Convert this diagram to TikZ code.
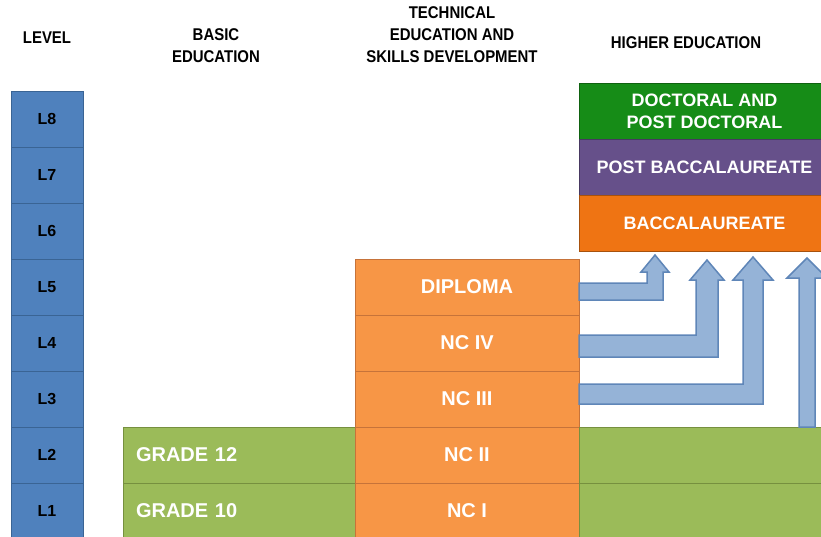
\documentclass[tikz,border=0pt]{standalone}
\usepackage{fontspec}
\setmainfont{Liberation Sans}
\newfontfamily\narrowsans[FakeStretch=0.88]{Liberation Sans Bold}
\usetikzlibrary{positioning}
\definecolor{levelblue}{HTML}{4F81BD}
\definecolor{levelline}{HTML}{3A6494}
\definecolor{tesdorange}{HTML}{F79646}
\definecolor{tesdline}{HTML}{C6733A}
\definecolor{basicgreen}{HTML}{9BBB59}
\definecolor{basicline}{HTML}{76903F}
\definecolor{docgreen}{HTML}{168C17}
\definecolor{postpurple}{HTML}{66508A}
\definecolor{baccorange}{HTML}{EF7413}
\definecolor{arrowblue}{HTML}{95B3D7}
\definecolor{arrowline}{HTML}{5F86B8}
\tikzset{
level/.style = {rectangle, draw = levelline, fill = levelblue, line width = 1pt, minimum width = 72, minimum height = 56, inner sep = 0, outer sep = 0, text = black, font = \bfseries\fontsize{16}{16}\selectfont},
tesd/.style = {rectangle, draw = tesdline, fill = tesdorange, line width = 1pt, minimum width = 224, minimum height = 56, inner sep = 0, outer sep = 0, text = white, font = \bfseries\fontsize{20}{20}\selectfont},
basic/.style = {rectangle, draw = basicline, fill = basicgreen, line width = 1pt, minimum height = 56, inner sep = 0, outer sep = 0, text = white, font = \bfseries\fontsize{20}{20}\selectfont},
higher/.style = {rectangle, draw = #1!70!black, fill = #1, line width = 1pt, minimum width = 251, minimum height = 56, inner sep = 0, outer sep = 0, text = white, align = center, font = \bfseries\fontsize{18}{22}\selectfont},
header/.style = {align = center, text = black, font = \narrowsans\fontsize{17}{22}\selectfont},
ladder arrow/.style = {draw = arrowline, fill = arrowblue, line width = 1.5pt, line join = miter},
}

\begin{document}
\begin{tikzpicture}[x = 1pt, y = -1pt]
    \useasboundingbox (0, 0) rectangle (821, 536);
    \clip (0, 0) rectangle (821, 536);
    % column headers
    \node[header] (hlevel) at (47, 38) {LEVEL};
    \node[header] (hbasic) at (216, 46) {BASIC\\EDUCATION};
    \node[header] (htesd) at (452, 35) {TECHNICAL\\EDUCATION AND\\SKILLS DEVELOPMENT};
    \node[header] (hhigher) at (686, 43) {HIGHER EDUCATION};
    % levels
    \node[level] (l8) at (47, 119) {L8};
    \node[level, below = 0pt of l8] (l7) {L7};
    \node[level, below = 0pt of l7] (l6) {L6};
    \node[level, below = 0pt of l6] (l5) {L5};
    \node[level, below = 0pt of l5] (l4) {L4};
    \node[level, below = 0pt of l4] (l3) {L3};
    \node[level, below = 0pt of l3] (l2) {L2};
    \node[level, below = 0pt of l2] (l1) {L1};
    % basic education
    \node[basic, minimum width = 232, text width = 206, align = left] (grade12) at (239, 455) {GRADE 12};
    \node[basic, minimum width = 232, text width = 206, align = left, below = 0pt of grade12] (grade10) {GRADE 10};
    % technical education and skills development
    \node[tesd] (diploma) at (467, 287) {DIPLOMA};
    \node[tesd, below = 0pt of diploma] (nc4) {NC IV};
    \node[tesd, below = 0pt of nc4] (nc3) {NC III};
    \node[tesd, below = 0pt of nc3] (nc2) {NC II};
    \node[tesd, below = 0pt of nc2] (nc1) {NC I};
    % higher education
    \node[basic, minimum width = 251, right = 0pt of nc2] (green2) {};
    \node[basic, minimum width = 251, right = 0pt of nc1] (green1) {};
    \node[higher = docgreen] (doctoral) at (704.5, 111) {DOCTORAL AND\\POST DOCTORAL};
    \node[higher = postpurple, below = 0pt of doctoral] (postbacc) {POST BACCALAUREATE};
    \node[higher = baccorange, below = 0pt of postbacc] (bacc) {BACCALAUREATE};
    % ladderized arrows
    \path[ladder arrow] (diploma.east |- 0,283) -- (647, 283) -- (647, 272) -- (641, 272) -- (655, 255) -- (669, 272) -- (663, 272) -- (663, 300) -- (diploma.east |- 0,300) -- cycle;
    \path[ladder arrow] (nc4.east |- 0,335) -- (696, 335) -- (696, 280) -- (690, 280) -- (707, 260) -- (724, 280) -- (718, 280) -- (718, 357) -- (nc4.east |- 0,357) -- cycle;
    \path[ladder arrow] (nc3.east |- 0,384) -- (743, 384) -- (743, 280) -- (733, 280) -- (753, 257) -- (773, 280) -- (763, 280) -- (763, 404) -- (nc3.east |- 0,404) -- cycle;
    \path[ladder arrow] (799, 0 |- green2.north) -- (799, 278) -- (787, 278) -- (807, 258) -- (827, 278) -- (815, 278) -- (815, 0 |- green2.north) -- cycle;
\end{tikzpicture}
\end{document}
